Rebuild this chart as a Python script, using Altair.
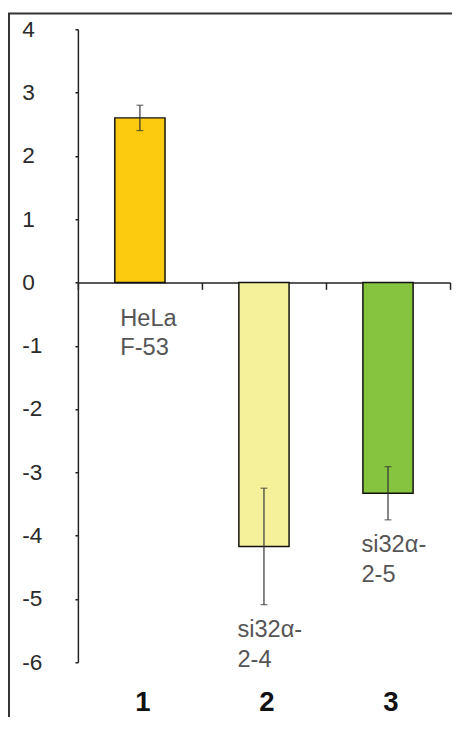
import altair as alt
import pandas as pd

categories = ["1", "2", "3"]
values = [2.60, -4.17, -3.33]
errors = [0.20, 0.92, 0.42]
labels = ["HeLa\nF-53", "si32α-\n2-4", "si32α-\n2-5"]
colors = ["#FCCB10", "#F5F19B", "#86C440"]
y_ticks = [4, 3, 2, 1, 0, -1, -2, -3, -4, -5, -6]

df = pd.DataFrame({"cat": categories, "value": values, "err": errors, "label": labels})
df["lo"] = df["value"] - df["err"]
df["hi"] = df["value"] + df["err"]
df["zero"] = 0.0

W, H = 378, 643
FONT = "Liberation Sans"
zero_offset = -(H * abs(min(y_ticks)) / (max(y_ticks) - min(y_ticks)))

xscale = alt.Scale(domain=categories, paddingInner=0, paddingOuter=0)
yscale = alt.Scale(domain=[min(y_ticks), max(y_ticks)], nice=False, zero=False)

yaxis = alt.Axis(values=y_ticks, tickSize=3, labelAlign="left", labelPadding=54,
                 labelFontSize=23, labelColor="#2a2a2a", labelFont=FONT,
                 labelExpr="'' + datum.value",
                 domainColor="#222", domainWidth=1.5, tickColor="#222", tickWidth=1.5,
                 grid=False, title=None, labelBaseline="middle")

x_label_axis = alt.Axis(orient="bottom", domain=False, ticks=False, labelAngle=0,
                        labelFontSize=28, labelFontWeight="bold", labelColor="#111",
                        labelFont=FONT, labelPadding=27, labelOffset=3, title=None)
x_zero_axis = alt.Axis(orient="bottom", offset=zero_offset, labels=False, tickBand="extent",
                       tickSize=7, tickWidth=1.5, tickColor="#222", domainColor="#222",
                       domainWidth=1.5, title=None, grid=False)


def X(axis=None):
    return alt.X("cat:N", scale=xscale, axis=axis, sort=categories)


def Y(field):
    return alt.Y(field, scale=yscale, axis=yaxis)


base = alt.Chart(df)

zero_axis_layer = base.mark_bar(opacity=0).encode(
    x=X(x_zero_axis),
    y=Y("value:Q"),
)

bars = base.mark_bar(size=51, stroke="#111", strokeWidth=1.5).encode(
    x=X(x_label_axis),
    y=Y("value:Q"),
    color=alt.Color("cat:N", scale=alt.Scale(domain=categories, range=colors), legend=None),
)

err_rule = base.mark_rule(color="#333", strokeWidth=1.2).encode(
    x=X(), y=Y("lo:Q"), y2="hi:Q",
)
cap_lo = base.mark_tick(color="#333", size=7, thickness=1.2, orient="horizontal").encode(
    x=X(), y=Y("lo:Q"),
)
cap_hi = base.mark_tick(color="#333", size=7, thickness=1.2, orient="horizontal").encode(
    x=X(), y=Y("hi:Q"),
)

label_pos = base.transform_filter("datum.value >= 0").mark_text(
    align="left", baseline="top", lineBreak="\n", fontSize=24, lineHeight=30,
    dx=-20, dy=25, color="#555", font=FONT
).encode(
    x=X(), y=Y("zero:Q"), text="label:N",
)

label_neg = base.transform_filter("datum.value < 0").mark_text(
    align="left", baseline="top", lineBreak="\n", fontSize=24, lineHeight=30,
    dx=-27, dy=14, color="#555", font=FONT
).encode(
    x=X(), y=Y("lo:Q"), text="label:N",
)

frame = alt.Chart(pd.DataFrame({"a": [0]})).mark_rect(
    filled=False, stroke="#333", strokeWidth=2
).encode(
    x=alt.value(-70), x2=alt.value(W + 40), y=alt.value(-16), y2=alt.value(H + 80)
)

chart = alt.layer(
    frame, zero_axis_layer, bars, err_rule, cap_lo, cap_hi, label_pos, label_neg
).resolve_axis(x="independent").properties(
    width=W, height=H,
    autosize=alt.AutoSizeParams(type="none"),
    padding={"left": 71, "top": 16, "right": 2, "bottom": 50},
).configure_view(stroke=None)

chart.save("out.html", embed_options={"renderer": "svg", "actions": False})
